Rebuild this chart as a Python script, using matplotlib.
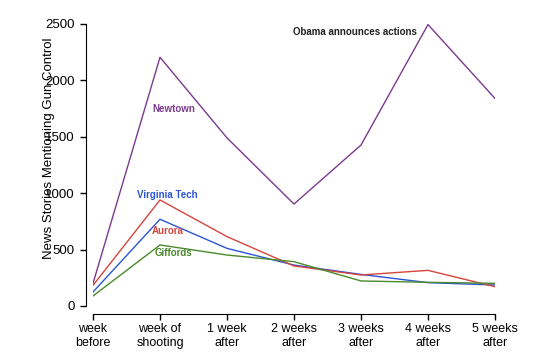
import matplotlib
matplotlib.use("Agg")
import matplotlib.pyplot as plt

plt.rcParams['font.family'] = ['Liberation Sans', 'DejaVu Sans']

weeks = ['week\nbefore', 'week of\nshooting', '1 week\nafter', '2 weeks\nafter',
         '3 weeks\nafter', '4 weeks\nafter', '5 weeks\nafter']

newtown = [200, 2205, 1490, 904, 1427, 2495, 1840]
aurora = [183, 940, 615, 355, 275, 316, 171]
virginia_tech = [124, 769, 511, 363, 280, 207, 186]
giffords = [89, 541, 452, 393, 222, 210, 201]

series = [
    ('Newtown', newtown, '#7b3a8e', (1.21, 1748)),
    ('Virginia Tech', virginia_tech, '#2b55d6', (1.11, 985)),
    ('Aurora', aurora, '#d6453c', (1.11, 668)),
    ('Giffords', giffords, '#4b8a2a', (1.2, 473)),
]

fig = plt.figure(figsize=(5.55, 3.63), dpi=100)
ax = fig.add_axes([93 / 555, 57 / 363, 402 / 555, 282 / 363])

x = list(range(len(weeks)))
for name, vals, color, (lx, ly) in series:
    ax.plot(x, vals, color=color, lw=1.0)
    ax.text(lx, ly, name, color=color, fontsize=7, fontweight='bold',
            ha='center', va='center')

ax.text(4.84, 2430, 'Obama announces actions', fontsize=7, fontweight='bold',
        ha='right', va='center', color='#222222')

ax.set_xlim(0, 6)
ax.set_ylim(0, 2500)
ax.set_xticks(x)
ax.set_xticklabels(weeks, fontsize=9, linespacing=1.0)
ax.set_yticks([0, 500, 1000, 1500, 2000, 2500])
ax.tick_params(axis='both', length=4.5, width=1, labelsize=9.5, color='black')
ax.tick_params(axis='x', labelsize=9, pad=2)

for side in ['top', 'right']:
    ax.spines[side].set_visible(False)
ax.spines['left'].set_position(('outward', 5))
ax.spines['bottom'].set_position(('outward', 6))

# the original chart lets this label run over the tick labels
ax.set_ylabel('News Stories Mentioning Gun Control', fontsize=9.5)
ax.yaxis.set_label_coords(-0.095, 0.56)

fig.savefig('out.png', dpi=100)
